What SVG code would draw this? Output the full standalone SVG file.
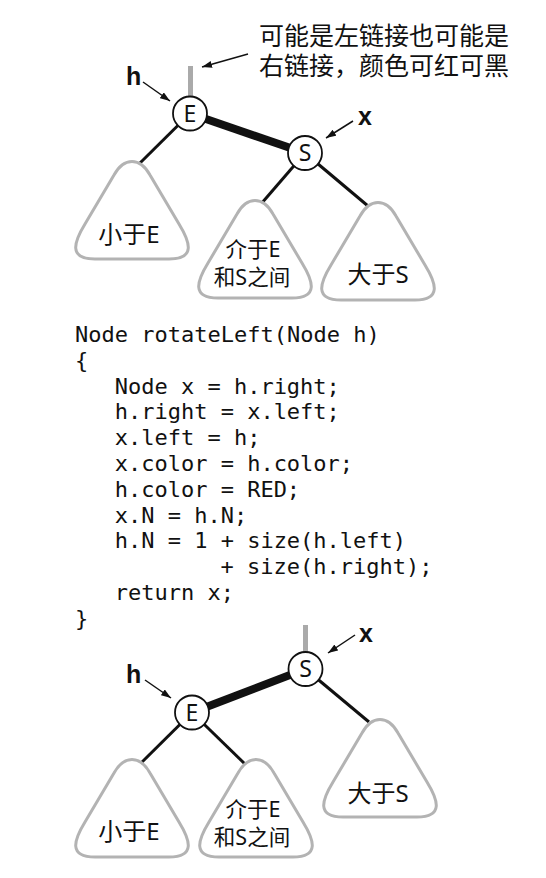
<svg xmlns="http://www.w3.org/2000/svg" xmlns:xlink="http://www.w3.org/1999/xlink" width="546" height="878" viewBox="0 0 546 878">
<style>
.edge{stroke:#111;stroke-width:3;fill:none}
.thick{stroke:#111;stroke-width:8;fill:none}
.link{stroke:#aaaaaa;stroke-width:5;fill:none}
.ptr{stroke:#111;stroke-width:1.5;fill:none;marker-end:url(#ah)}
.node circle{fill:#fff;stroke:#111;stroke-width:1.8}
.lbl{font-family:"Noto Sans","Noto Sans CJK SC",sans-serif;font-size:23px;text-anchor:middle;fill:#111}
.tri use{fill:#fff;stroke:#b3b3b3;stroke-width:3}
.sub{font-family:"Noto Sans","Noto Sans CJK SC",sans-serif;font-size:24px;text-anchor:middle;fill:#111}
.sub2{font-family:"Noto Sans","Noto Sans CJK SC",sans-serif;font-size:21.5px;text-anchor:middle;fill:#111}
.var{font-family:"Liberation Sans",Arial,sans-serif;font-weight:bold;font-size:25px;fill:#111}
.note{font-family:"Noto Sans CJK SC",sans-serif;font-size:25px;fill:#111}
.code{font-family:"DejaVu Sans Mono","Liberation Mono",monospace;font-size:22px;fill:#111}
</style>
<defs>
<marker id="ah" markerUnits="userSpaceOnUse" markerWidth="11" markerHeight="8" refX="10" refY="3.5" orient="auto">
<path d="M0,0 L10,3.5 L0,7 z" fill="#111"/>
</marker>
<path id="tshape" d="M -18,14 C -8,-4 8,-4 18,14 L 47,63 C 58,81 64,98 37,98 L -37,98 C -64,98 -58,81 -47,63 Z"/>
</defs>

<!-- annotation text -->
<g id="note">
<text class="note" x="259" y="45">可能是左链接也可能是</text>
<text class="note" x="259" y="75">右链接，颜色可红可黑</text>
</g>

<!-- connectors -->
<g id="connectors">
<line class="link" x1="190.5" y1="66" x2="190.5" y2="100"/>
<line class="edge" x1="190" y1="113.5" x2="140" y2="163"/>
<line class="thick" x1="190" y1="113.5" x2="305" y2="153"/>
<line class="edge" x1="305" y1="153" x2="261" y2="204"/>
<line class="edge" x1="305" y1="153" x2="368" y2="206"/>
<line class="ptr" x1="248" y1="54" x2="202" y2="67"/>
<line class="ptr" x1="143" y1="82" x2="170" y2="101"/>
<line class="ptr" x1="353" y1="121" x2="326" y2="138"/>

<line class="link" x1="305.5" y1="625" x2="305.5" y2="655"/>
<line class="edge" x1="192" y1="712.5" x2="140" y2="764"/>
<line class="edge" x1="192" y1="712.5" x2="245" y2="764"/>
<line class="thick" x1="192" y1="712.5" x2="305.5" y2="669"/>
<line class="edge" x1="305.5" y1="669" x2="369" y2="722"/>
<line class="ptr" x1="145" y1="680" x2="171" y2="698"/>
<line class="ptr" x1="355" y1="635" x2="328" y2="653"/>
</g>

<!-- top tree -->
<g id="top-E" class="node"><circle cx="190" cy="113.5" r="17"/><text class="lbl" x="190" y="121.5">E</text></g>
<g id="top-S" class="node"><circle cx="305" cy="153" r="17"/><text class="lbl" x="305" y="161">S</text></g>
<g id="top-h"><text class="var" x="126" y="85">h</text></g>
<g id="top-x"><text class="var" x="358" y="125">x</text></g>
<g id="top-less" class="tri"><use xlink:href="#tshape" transform="translate(132,161)"/><text class="sub" x="129" y="243">小于E</text></g>
<g id="top-between" class="tri"><use xlink:href="#tshape" transform="translate(255,200)"/><text class="sub2" x="253" y="257">介于E</text><text class="sub2" x="252" y="285">和S之间</text></g>
<g id="top-greater" class="tri"><use xlink:href="#tshape" transform="translate(378,202)"/><text class="sub" x="378" y="283">大于S</text></g>

<!-- code -->
<g id="code" class="code">
<text x="75" y="342">Node rotateLeft(Node h)</text>
<text x="75" y="367.8">{</text>
<text x="114.7" y="393.6">Node x = h.right;</text>
<text x="114.7" y="419.4">h.right = x.left;</text>
<text x="114.7" y="445.2">x.left = h;</text>
<text x="114.7" y="471">x.color = h.color;</text>
<text x="114.7" y="496.8">h.color = RED;</text>
<text x="114.7" y="522.6">x.N = h.N;</text>
<text x="114.7" y="548.4">h.N = 1 + size(h.left)</text>
<text x="220.6" y="574.2">+ size(h.right);</text>
<text x="114.7" y="600">return x;</text>
<text x="75" y="625.8">}</text>
</g>

<!-- bottom tree -->
<g id="bot-E" class="node"><circle cx="192" cy="712.5" r="17"/><text class="lbl" x="192" y="720.5">E</text></g>
<g id="bot-S" class="node"><circle cx="305.5" cy="669" r="17"/><text class="lbl" x="305.5" y="677">S</text></g>
<g id="bot-h"><text class="var" x="126" y="683">h</text></g>
<g id="bot-x"><text class="var" x="359" y="642">x</text></g>
<g id="bot-less" class="tri"><use xlink:href="#tshape" transform="translate(132,759)"/><text class="sub" x="129" y="840">小于E</text></g>
<g id="bot-between" class="tri"><use xlink:href="#tshape" transform="translate(256,759)"/><text class="sub2" x="253" y="817">介于E</text><text class="sub2" x="252" y="845">和S之间</text></g>
<g id="bot-greater" class="tri"><use xlink:href="#tshape" transform="translate(380,719)"/><text class="sub" x="378" y="802">大于S</text></g>
</svg>
